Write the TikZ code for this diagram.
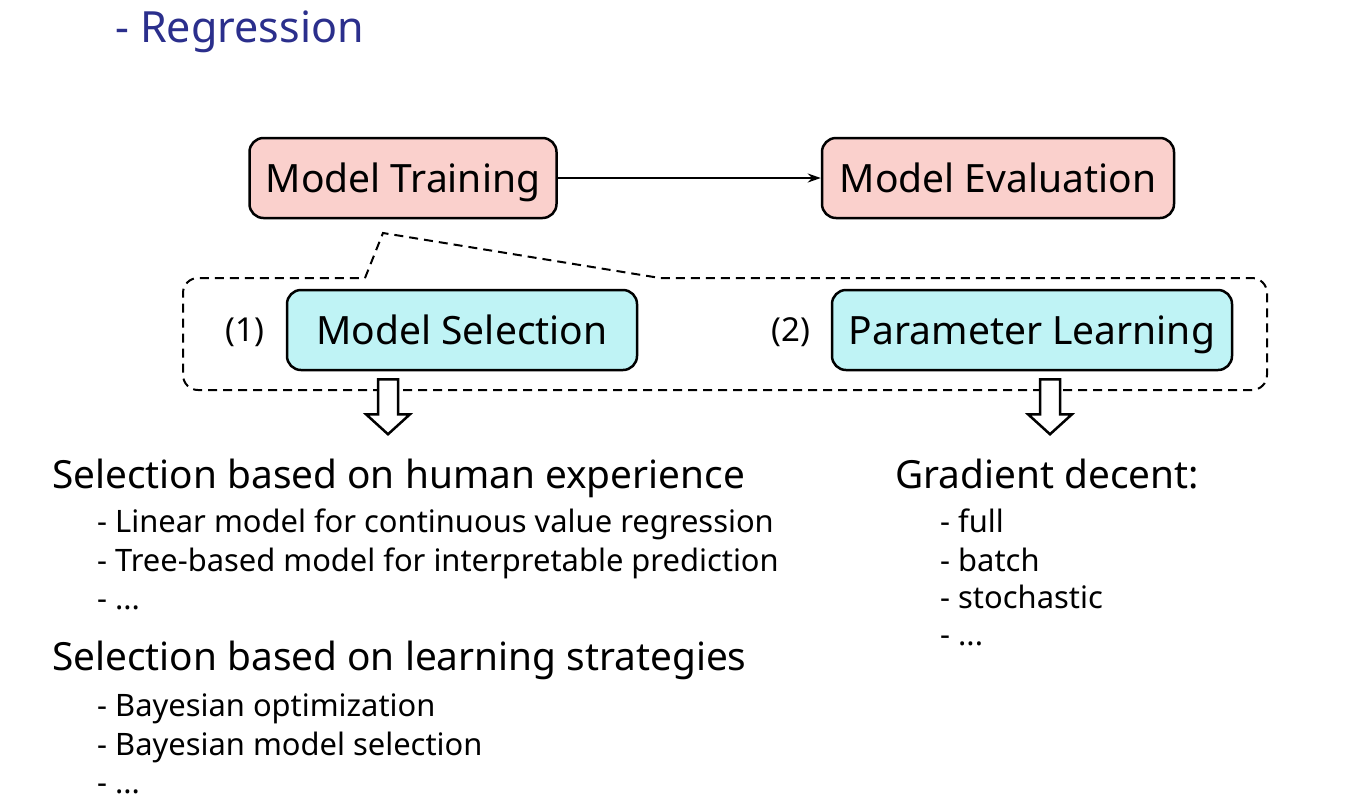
\documentclass[tikz,border=0pt]{standalone}
\usepackage{fontspec}
\setmainfont{Noto Sans}
\usepackage{xcolor}
\usetikzlibrary{arrows.meta,positioning}
\definecolor{stagepink}{HTML}{FAD0CC}
\definecolor{stepcyan}{HTML}{BFF3F5}
\definecolor{titlenavy}{HTML}{2B2F8C}

\begin{document}
\begin{tikzpicture}[
  x=1pt, y=-1pt,
  stage/.style={draw, line width=2.5pt, rounded corners=14pt, fill=stagepink,
    minimum height=80pt, text height=28pt, text depth=0pt,
    font=\fontsize{39}{42}\selectfont},
  stepbox/.style={draw, line width=2.5pt, rounded corners=14pt, fill=stepcyan,
    minimum height=80pt, text height=28pt, text depth=0pt,
    font=\fontsize{39}{42}\selectfont},
  tag/.style={text height=23.5pt, text depth=0pt, font=\fontsize{33}{36}\selectfont},
  heading/.style={anchor=base west, inner sep=0pt, font=\fontsize{38.8}{42}\selectfont},
  item/.style={anchor=base west, inner sep=0pt, font=\fontsize{30.9}{34}\selectfont},
  frame/.style={dashed, line width=2pt, dash pattern=on 9pt off 6pt},
  hollow/.style={draw, line width=2.5pt, fill=white}
]
\useasboundingbox (0,0) rectangle (1357,804);

\node[anchor=base west, inner sep=0pt, text=titlenavy,
  font=\fontsize{43}{46}\selectfont] (title) at (115,42) {- Regression};

% training stage and evaluation stage
\node[stage, minimum width=307pt] (train) at (403,178) {Model Training};
\node[stage, minimum width=352pt] (eval) at (998,178) {Model Evaluation};
\draw[line width=2pt, -{Stealth[length=13pt,width=9pt]}] (train) -- (eval);

% the two steps inside training
\draw[frame] (365,278) -- (383,233) -- (660,278)
  [rounded corners=15pt] -- (1267,278) -- (1267,390) -- (183,390) -- (183,278) -- (365,278);
\node[stepbox, minimum width=350pt] (select) at (462,330) {Model Selection};
\node[stepbox, minimum width=400pt] (learn) at (1032,330) {Parameter Learning};
\node[tag] (n1) at (245,330) {(1)};
\node[tag] (n2) at (791,330) {(2)};

% block arrows
\coordinate (a1) at (select.south -| 388,0);
\coordinate (a2) at (learn.south -| 1050,0);
\foreach \a in {a1,a2}
  \draw[hollow] (\a) ++(-10,8) -- ++(0,35) -- ++(-12,0) -- ++(22,20)
    -- ++(22,-20) -- ++(-12,0) -- ++(0,-35) -- cycle;

% model selection notes
\node[heading] (human) at (52,488) {Selection based on human experience};
\node[item] (h1) at (97,532) {- Linear model for continuous value regression};
\node[item] (h2) at (97,571) {- Tree-based model for interpretable prediction};
\node[item] (h3) at (97,609) {- ...};
\node[heading] (strat) at (52,670) {Selection based on learning strategies};
\node[item] (s1) at (97,716) {- Bayesian optimization};
\node[item] (s2) at (97,755) {- Bayesian model selection};
\node[item] (s3) at (97,793) {- ...};

% parameter learning notes
\node[heading] (grad) at (895,488) {Gradient decent:};
\node[item] (g1) at (940,532) {- full};
\node[item] (g2) at (940,571) {- batch};
\node[item] (g3) at (940,608) {- stochastic};
\node[item] (g4) at (940,645) {- ...};
\end{tikzpicture}
\end{document}
